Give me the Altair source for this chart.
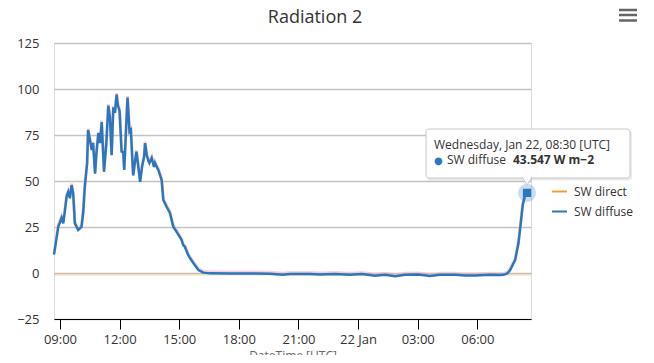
import altair as alt
import pandas as pd

# ---------------- data ----------------
diffuse_times = [
    "2020-01-21 08:42", "2020-01-21 08:55", "2020-01-21 09:05", "2020-01-21 09:10",
    "2020-01-21 09:15", "2020-01-21 09:20", "2020-01-21 09:25", "2020-01-21 09:30",
    "2020-01-21 09:35", "2020-01-21 09:40", "2020-01-21 09:45", "2020-01-21 09:55",
    "2020-01-21 10:05", "2020-01-21 10:10", "2020-01-21 10:15", "2020-01-21 10:22",
    "2020-01-21 10:25", "2020-01-21 10:36", "2020-01-21 10:40", "2020-01-21 10:46",
    "2020-01-21 10:50", "2020-01-21 10:56", "2020-01-21 11:01", "2020-01-21 11:06",
    "2020-01-21 11:13", "2020-01-21 11:20", "2020-01-21 11:26", "2020-01-21 11:31",
    "2020-01-21 11:36", "2020-01-21 11:41", "2020-01-21 11:46", "2020-01-21 11:51",
    "2020-01-21 11:55", "2020-01-21 12:00", "2020-01-21 12:06", "2020-01-21 12:11",
    "2020-01-21 12:14", "2020-01-21 12:21", "2020-01-21 12:24", "2020-01-21 12:30",
    "2020-01-21 12:34", "2020-01-21 12:41", "2020-01-21 12:46", "2020-01-21 12:51",
    "2020-01-21 13:02", "2020-01-21 13:08", "2020-01-21 13:14", "2020-01-21 13:17",
    "2020-01-21 13:22", "2020-01-21 13:27", "2020-01-21 13:30", "2020-01-21 13:37",
    "2020-01-21 13:44", "2020-01-21 13:47", "2020-01-21 13:54", "2020-01-21 13:57",
    "2020-01-21 14:07", "2020-01-21 14:12", "2020-01-21 14:22", "2020-01-21 14:32",
    "2020-01-21 14:42", "2020-01-21 14:57", "2020-01-21 15:07", "2020-01-21 15:12",
    "2020-01-21 15:17", "2020-01-21 15:27", "2020-01-21 15:33", "2020-01-21 15:43",
    "2020-01-21 15:58", "2020-01-21 16:13", "2020-01-21 16:33", "2020-01-21 17:33",
    "2020-01-21 18:34", "2020-01-21 19:34", "2020-01-21 20:13", "2020-01-21 20:34",
    "2020-01-21 21:35", "2020-01-21 22:05", "2020-01-21 22:50", "2020-01-21 23:36",
    "2020-01-22 00:12", "2020-01-22 00:51", "2020-01-22 01:21", "2020-01-22 01:52",
    "2020-01-22 02:22", "2020-01-22 03:01", "2020-01-22 03:37", "2020-01-22 04:07",
    "2020-01-22 04:53", "2020-01-22 05:23", "2020-01-22 05:53", "2020-01-22 06:38",
    "2020-01-22 07:09", "2020-01-22 07:19", "2020-01-22 07:30", "2020-01-22 07:39",
    "2020-01-22 07:54", "2020-01-22 08:04", "2020-01-22 08:11", "2020-01-22 08:17",
    "2020-01-22 08:23", "2020-01-22 08:30",
]
diffuse_values = [
    10.0, 25.2, 30.0, 27.0,
    34.0, 41.5, 44.0, 40.6,
    47.8, 43.0, 27.0, 23.4,
    25.0, 32.6, 47.0, 59.7,
    77.7, 66.8, 70.6, 54.0,
    65.0, 76.0, 70.6, 82.0,
    55.0, 70.6, 91.0, 84.0,
    64.0, 90.0, 87.0, 97.0,
    91.0, 88.0, 66.0, 65.8,
    56.0, 84.0, 95.3, 76.8,
    77.7, 53.0, 59.8, 66.0,
    49.6, 58.0, 63.0, 70.6,
    64.0, 61.0, 59.8, 62.5,
    57.6, 59.8, 57.0, 56.0,
    50.5, 39.7, 36.0, 32.6,
    25.2, 21.0, 18.0, 15.2,
    14.3, 9.8, 8.0, 5.3,
    1.6, 0.2, -0.2, -0.3,
    -0.3, -0.4, -1.0, -0.5,
    -0.6, -0.8, -0.5, -0.9,
    -0.6, -1.5, -0.9, -1.7,
    -1.0, -0.8, -1.6, -1.0,
    -0.9, -1.4, -1.3, -1.0,
    -1.1, -1.0, -0.3, 1.6,
    7.0, 16.0, 27.0, 37.0,
    41.5, 43.547,
]

direct_times = ["2020-01-21 08:42", "2020-01-21 12:00", "2020-01-21 16:00",
                "2020-01-21 20:00", "2020-01-22 00:00", "2020-01-22 04:00",
                "2020-01-22 08:42"]
direct_values = [-0.8, -0.8, -0.8, -0.8, -0.8, -0.8, -0.8]

series_names = ["SW direct", "SW diffuse"]
series_colors = ["#e8a33a", "#2b76bd"]

x_domain = ["2020-01-21 08:42", "2020-01-22 08:42"]
tick_times = ["2020-01-21 09:00", "2020-01-21 12:00", "2020-01-21 15:00",
              "2020-01-21 18:00", "2020-01-21 21:00", "2020-01-22 00:00",
              "2020-01-22 03:00", "2020-01-22 06:00"]
y_ticks = [-25, 0, 25, 50, 75, 100, 125]

chart_title = "Radiation 2"
y_title = "W m-2"
x_title = "DateTime [UTC]"
tooltip_header = "Wednesday, Jan 22, 08:30 [UTC]"
tooltip_series = "SW diffuse"
tooltip_value = "43.547 W m\u22122"

FONT = "Open Sans"
TXT = "#333333"


def to_ms(strings):
    return [int(pd.Timestamp(s, tz="UTC").value // 10**6) for s in strings]


diffuse_df = pd.DataFrame({"t": to_ms(diffuse_times), "v": diffuse_values,
                           "series": "SW diffuse"})
direct_df = pd.DataFrame({"t": to_ms(direct_times), "v": direct_values,
                          "series": "SW direct"})
last_df = diffuse_df.tail(1)

x_scale = alt.Scale(type="utc", domain=to_ms(x_domain), nice=False)
y_scale = alt.Scale(domain=[y_ticks[0], y_ticks[-1]], nice=False, zero=False)

x_axis = alt.Axis(
    values=to_ms(tick_times),
    labelExpr="utchours(datum.value) == 0 ? utcFormat(datum.value, '%d %b') : utcFormat(datum.value, '%H:%M')",
    title=x_title, grid=False, domainColor="#000000", domainWidth=1,
    tickColor="#000000", tickSize=10, tickWidth=1, labelPadding=4,
    labelFont=FONT, labelFontSize=13, labelColor=TXT, titleFont=FONT,
    titleFontSize=12, titleFontWeight="normal", titleColor="#666666",
)
y_axis = alt.Axis(
    values=y_ticks, title=y_title, grid=True, gridColor="#c2c2c2", gridWidth=1.5,
    domain=False, ticks=False, labelPadding=15, labelFont=FONT, labelFontSize=13,
    labelColor=TXT, titleFont=FONT, titleFontSize=12, titleFontWeight="normal",
    titleColor="#666699", titlePadding=10,
)

color_scale = alt.Scale(domain=series_names, range=series_colors)
legend = alt.Legend(
    title=None, orient="none", legendX=497, legendY=140, symbolType="stroke",
    symbolSize=225, symbolStrokeWidth=2, symbolOpacity=1, labelFont=FONT,
    labelFontSize=12, labelColor=TXT, labelOffset=6, rowPadding=5,
)

base_x = alt.X("t:T", scale=x_scale, axis=x_axis)
base_y = alt.Y("v:Q", scale=y_scale, axis=y_axis)

direct_layer = alt.Chart(direct_df).mark_line(strokeWidth=2.5, opacity=0.25).encode(
    x=base_x, y=base_y,
    color=alt.Color("series:N", scale=color_scale, legend=legend),
)
halo_layer = alt.Chart(diffuse_df).mark_line(
    strokeWidth=3, color="#f4b6be", opacity=0.6, yOffset=-1.5
).encode(x=alt.X("t:T", scale=x_scale), y=alt.Y("v:Q", scale=y_scale))
diffuse_layer = alt.Chart(diffuse_df).mark_line(strokeWidth=2.5, opacity=1).encode(
    x=alt.X("t:T", scale=x_scale), y=alt.Y("v:Q", scale=y_scale),
    color=alt.Color("series:N", scale=color_scale, legend=legend),
)
marker_halo = alt.Chart(last_df).mark_point(
    shape="circle", size=330, filled=True, color="#2b76bd", opacity=0.25
).encode(x=alt.X("t:T", scale=x_scale), y=alt.Y("v:Q", scale=y_scale))
marker = alt.Chart(last_df).mark_point(
    shape="square", size=68, filled=True, color="#2b76bd", opacity=1
).encode(x=alt.X("t:T", scale=x_scale), y=alt.Y("v:Q", scale=y_scale))

one = alt.Data(values=[{"k": 1}])

tip_shadow = alt.Chart(one).mark_rect(cornerRadius=3, color="#000000", opacity=0.08).encode(
    x=alt.value(373), x2=alt.value(578), y=alt.value(87.5), y2=alt.value(137.5))
tip_box = alt.Chart(one).mark_rect(
    cornerRadius=3, fill="#ffffff", fillOpacity=0.97, stroke="#c8c8c8", strokeWidth=1
).encode(x=alt.value(372), x2=alt.value(576), y=alt.value(86), y2=alt.value(135))
tip_pointer = alt.Chart(one).mark_point(
    shape="M -1 -0.25 L 0 1.4 L 1 -0.25", size=100, filled=False, fill="#ffffff",
    fillOpacity=1, stroke="#c8c8c8", strokeWidth=1, opacity=1
).encode(x=alt.value(473), y=alt.value(135))
tip_line1 = alt.Chart(one).mark_text(
    text=tooltip_header, align="left", baseline="alphabetic", font=FONT,
    fontSize=12, color=TXT
).encode(x=alt.value(380), y=alt.value(106))
tip_bullet = alt.Chart(one).mark_text(
    text="\u25cf", align="left", baseline="alphabetic", font="DejaVu Sans",
    fontSize=10, color="#2b76bd"
).encode(x=alt.value(380), y=alt.value(120.5))
tip_name = alt.Chart(one).mark_text(
    text=tooltip_series, align="left", baseline="alphabetic", font=FONT,
    fontSize=12, color=TXT
).encode(x=alt.value(393), y=alt.value(121))
tip_value = alt.Chart(one).mark_text(
    text=tooltip_value, align="left", baseline="alphabetic", font=FONT,
    fontSize=12, fontWeight="bold", color=TXT
).encode(x=alt.value(459), y=alt.value(121))

title_mark = alt.Chart(one).mark_text(
    text=chart_title, align="center", baseline="alphabetic", font=FONT,
    fontSize=18, color=TXT
).encode(x=alt.value(261), y=alt.value(-20))

menu_lines = [
    alt.Chart(one).mark_rule(color="#666666", strokeWidth=2.5).encode(
        x=alt.value(565), x2=alt.value(583), y=alt.value(yy))
    for yy in (-33, -28, -22.5)
]

chart = alt.layer(
    direct_layer, halo_layer, diffuse_layer, marker_halo, marker,
    tip_shadow, tip_box, tip_pointer, tip_line1, tip_bullet, tip_name, tip_value,
    title_mark, *menu_lines,
).properties(
    width=477, height=276,
    autosize=alt.AutoSizeParams(type="none"),
    padding={"left": 46, "top": 35, "right": 115, "bottom": 36},
).configure_view(stroke=None).configure(background="#ffffff")

chart.save("out.html", embed_options={"renderer": "svg", "actions": False})
